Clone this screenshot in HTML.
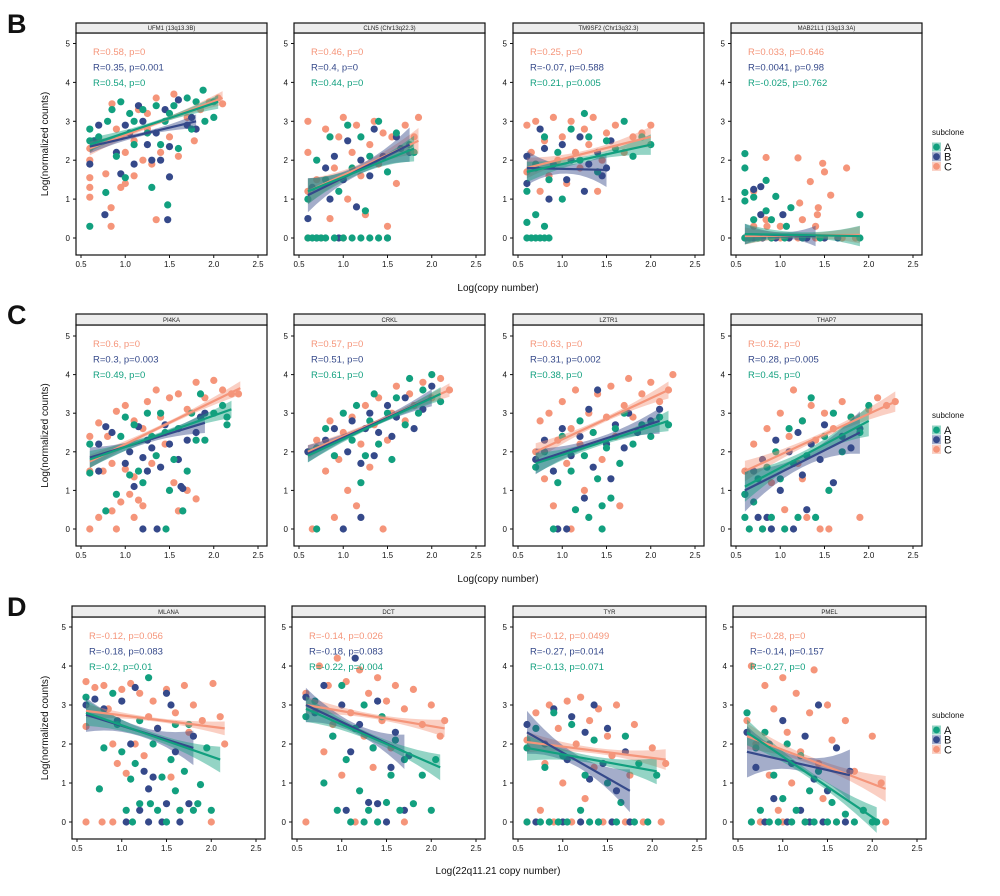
<!DOCTYPE html>
<html><head><meta charset="utf-8">
<style>
html,body{margin:0;padding:0;background:#fff;}
svg{display:block;font-family:"Liberation Sans",Arial,sans-serif;}
</style></head>
<body>
<svg id="fig" width="1000" height="896" viewBox="0 0 1000 896" xmlns="http://www.w3.org/2000/svg"></svg>
<script>
function P(s){return s.split(";").map(function(p){var a=p.split(",");return [+a[0],+a[1]];});}
const seriesNames=["C","B","A"];
const colors={A:"#12a07f",B:"#35498a",C:"#f5957a"};
const xTicks=[0.5,1.0,1.5,2.0,2.5];
const xTickLabels=["0.5","1.0","1.5","2.0","2.5"];
const yTicks=[0,1,2,3,4,5];
const yTickLabels=["0","1","2","3","4","5"];
const panelTitles=["UFM1 (13q13.3B)","CLN5 (Chr13q22.3)","TM9SF2 (Chr13q32.3)","MAB21L1 (13q13.3A)","PI4KA","CRKL","LZTR1","THAP7","MLANA","DCT","TYR","PMEL"];
const statsC=["R=0.58, p=0","R=0.46, p=0","R=0.25, p=0","R=0.033, p=0.646","R=0.6, p=0","R=0.57, p=0","R=0.63, p=0","R=0.52, p=0","R=-0.12, p=0.056","R=-0.14, p=0.026","R=-0.12, p=0.0499","R=-0.28, p=0"];
const statsB=["R=0.35, p=0.001","R=0.4, p=0","R=-0.07, p=0.588","R=0.0041, p=0.98","R=0.3, p=0.003","R=0.51, p=0","R=0.31, p=0.002","R=0.28, p=0.005","R=-0.18, p=0.083","R=-0.18, p=0.083","R=-0.27, p=0.014","R=-0.14, p=0.157"];
const statsA=["R=0.54, p=0","R=0.44, p=0","R=0.21, p=0.005","R=-0.025, p=0.762","R=0.49, p=0","R=0.61, p=0","R=0.38, p=0","R=0.45, p=0","R=-0.2, p=0.01","R=-0.22, p=0.004","R=-0.13, p=0.071","R=-0.27, p=0"];
// fit lines: [x0,y0,x1,y1,bandHalfWidth]
const fitC=[[0.6,2.3,2.1,3.6,0.08],[0.6,1.2,1.85,2.5,0.15],[0.6,1.8,2.0,2.6,0.12],[0.6,0.05,1.9,0.08,0.1],[0.6,1.75,2.3,3.65,0.08],[0.6,2.0,2.2,3.6,0.08],[0.7,2.0,2.2,3.6,0.1],[0.6,1.5,2.3,3.3,0.12],[0.6,2.85,2.15,2.4,0.08],[0.6,3.0,2.15,2.4,0.1],[0.6,2.05,2.15,1.6,0.12],[0.6,2.2,2.15,0.85,0.15]];
const fitB=[[0.6,2.35,1.8,3.0,0.08],[0.6,1.1,1.75,2.4,0.2],[0.6,1.8,1.5,1.75,0.2],[0.6,0.1,1.4,0.05,0.12],[0.6,1.85,1.9,2.75,0.12],[0.6,1.95,2.0,3.4,0.1],[0.7,1.75,2.1,2.8,0.15],[0.6,1.0,1.9,2.5,0.25],[0.6,2.75,1.8,1.9,0.2],[0.6,3.0,1.7,1.8,0.2],[0.6,2.3,1.75,0.8,0.25],[0.6,1.8,1.75,1.2,0.3]];
const fitA=[[0.6,2.4,2.05,3.5,0.08],[0.6,1.2,1.8,2.3,0.15],[0.6,1.7,2.0,2.4,0.12],[0.6,0.1,1.9,0.05,0.12],[0.6,1.8,2.2,3.1,0.1],[0.6,1.9,2.1,3.5,0.08],[0.7,1.7,2.2,2.8,0.12],[0.6,1.1,2.0,2.8,0.18],[0.6,2.8,2.1,1.6,0.15],[0.6,2.9,2.1,1.4,0.15],[0.6,1.9,2.05,1.3,0.15],[0.6,2.3,2.05,0.05,0.15]];
const ptsC=[
P("0.6,2.3;0.6,2.0;0.6,1.55;0.6,1.3;0.6,1.05;0.7,2.5;0.78,1.65;0.84,0.78;0.84,0.3;0.85,3.45;0.9,2.8;0.95,1.3;1.0,2.2;1.0,1.4;1.1,2.5;1.1,1.6;1.15,3.3;1.2,2.0;1.25,2.8;1.3,1.9;1.35,3.6;1.35,0.47;1.4,2.2;1.5,2.6;1.55,3.7;1.6,2.1;1.7,3.1;1.78,2.5;1.85,3.3;1.95,3.5;2.1,3.45;2.05,3.6;1.25,3.2;0.95,2.6"),
P("0.6,0;0.6,1.2;0.6,2.2;0.6,3.0;0.7,1.5;0.75,0;0.8,2.8;0.85,0.5;0.9,1.8;0.95,2.6;1.0,0;1.05,1.0;1.1,2.2;1.15,2.9;1.2,1.6;1.25,0.6;1.3,2.4;1.35,3.0;1.4,1.9;1.45,2.7;1.5,0.3;1.55,2.6;1.6,1.4;1.7,2.9;1.8,2.6;1.85,3.1;1.0,3.1"),
P("0.6,1.7;0.6,2.9;0.65,2.2;0.7,3.0;0.75,1.2;0.8,2.5;0.85,1.6;0.9,3.1;0.95,2.0;1.0,2.6;1.05,1.4;1.1,3.0;1.15,2.2;1.2,1.8;1.25,2.8;1.3,2.4;1.35,3.1;1.45,2.0;1.5,2.7;1.6,2.9;1.7,2.2;1.8,2.6;1.9,2.7;2.0,2.9;1.4,1.2"),
P("0.6,0;0.7,0;0.8,0;0.9,0;1.0,0;1.1,0;1.2,0;1.3,0;1.4,0;1.5,0;1.7,0;1.85,0;0.7,0.3;0.84,0.47;0.84,2.07;0.7,1.2;1.0,0.3;1.2,2.06;1.22,0.9;1.25,0.47;1.34,1.45;1.42,0.6;1.43,0.78;1.48,1.92;1.5,1.7;1.57,1.1;1.75,1.8;1.4,0.3;0.85,0.3"),
P("0.6,0;0.6,1.5;0.6,2.4;0.7,0.3;0.7,2.75;0.75,1.5;0.8,2.4;0.85,0.47;0.85,1.7;0.9,0;0.9,3.05;0.95,0.7;1.0,1.55;1.0,3.2;1.05,0.9;1.1,0.3;1.1,1.35;1.1,2.8;1.15,0.75;1.2,0.6;1.2,2.6;1.25,3.3;1.3,1.7;1.35,3.6;1.4,2.9;1.5,3.4;1.55,1.2;1.6,0.47;1.6,3.5;1.7,1.0;1.7,3.1;1.8,0.78;1.8,3.8;1.9,3.4;2.0,3.85;2.1,3.6;2.2,3.5;2.28,3.5;1.45,2.2"),
P("0.6,2.0;0.65,0;0.7,2.3;0.8,1.5;0.85,2.8;0.9,0.3;0.95,1.8;1.0,2.5;1.05,1.0;1.1,2.9;1.15,0.6;1.2,2.2;1.25,3.2;1.3,1.6;1.35,2.7;1.4,3.4;1.5,2.3;1.55,3.0;1.6,3.7;1.7,2.8;1.75,3.5;1.8,3.2;1.9,3.8;2.0,3.4;2.1,3.9;2.2,3.6;1.45,0"),
P("0.7,2.0;0.75,2.8;0.8,1.3;0.85,3.0;0.9,0.6;0.95,2.3;1.0,3.3;1.05,1.7;1.1,2.6;1.15,3.6;1.2,2.2;1.25,1.0;1.3,3.0;1.35,2.5;1.4,3.5;1.45,1.8;1.5,2.9;1.55,3.7;1.6,2.4;1.7,3.2;1.75,3.9;1.8,2.9;1.9,3.5;2.0,3.8;2.1,3.3;2.2,3.6;2.25,4.0;1.65,0.6;1.1,0"),
P("0.6,1.5;0.7,2.2;0.8,0;0.85,2.6;0.9,1.2;1.0,3.0;1.05,0.5;1.1,2.4;1.15,3.6;1.2,1.7;1.25,2.8;1.3,0.3;1.35,3.2;1.4,2.3;1.45,0;1.5,3.0;1.55,0;1.6,2.6;1.7,3.3;1.8,2.9;1.9,0.3;2.0,3.1;2.1,3.4;2.2,3.2;2.3,3.3;1.25,1.3"),
P("0.6,0;0.6,3.6;0.6,2.45;0.7,3.45;0.78,0;0.8,3.5;0.85,2.9;0.9,0;0.9,2.0;0.95,1.5;1.0,3.4;1.05,1.25;1.1,3.55;1.15,2.0;1.2,3.3;1.25,1.7;1.3,2.7;1.35,3.1;1.4,2.4;1.5,3.4;1.55,1.15;1.6,2.8;1.7,3.5;1.75,2.3;1.8,3.0;1.9,2.6;2.0,0;2.02,3.55;2.1,2.7;2.15,2.0;1.65,0.3"),
P("0.6,0;0.6,3.3;0.7,2.9;0.75,4.0;0.8,1.8;0.85,3.5;0.9,2.5;0.95,4.2;1.0,1.2;1.05,3.6;1.1,2.8;1.15,0;1.2,3.9;1.25,2.2;1.3,3.3;1.35,1.4;1.4,3.7;1.45,2.6;1.5,3.1;1.55,1.9;1.6,3.5;1.7,2.9;1.8,3.4;1.9,2.5;2.0,3.0;2.1,2.2;2.15,2.6;1.7,0"),
P("0.6,0;0.6,2.1;0.7,2.8;0.75,0.3;0.8,1.5;0.85,3.0;0.9,0;0.95,2.4;1.0,1.0;1.05,3.1;1.1,0;1.15,2.0;1.2,3.2;1.25,0.6;1.3,2.6;1.35,1.4;1.4,2.9;1.45,0;1.5,2.2;1.55,1.7;1.6,3.0;1.7,0;1.75,1.2;1.8,2.5;1.9,0;2.0,1.9;2.1,0;2.15,1.5"),
P("0.6,2.6;0.65,4.0;0.7,2.0;0.75,0;0.8,3.5;0.85,1.2;0.9,2.9;0.95,0.3;1.0,3.7;1.05,2.3;1.1,1.0;1.15,3.3;1.2,1.8;1.25,0;1.3,2.8;1.35,3.9;1.4,1.5;1.45,0.6;1.5,3.0;1.55,2.1;1.6,0;1.7,2.6;1.8,1.3;1.9,0.3;2.0,2.2;2.1,1.0;2.15,0;1.0,0")];
const ptsB=[
P("0.6,1.9;0.65,2.5;0.7,2.9;0.77,0.6;0.9,2.2;0.95,1.65;1.05,2.7;1.1,1.9;1.15,3.4;1.25,2.4;1.3,2.0;1.35,2.7;1.4,2.0;1.45,3.3;1.48,0.47;1.5,1.57;1.5,2.35;1.6,3.55;1.7,2.9;1.75,3.1;1.8,2.8;1.2,3.0;1.0,2.9"),
P("0.6,0.5;0.65,1.3;0.7,0;0.8,1.8;0.85,1.0;0.9,2.1;1.0,1.5;1.05,2.5;1.15,0.8;1.2,2.0;1.3,1.6;1.35,2.8;1.45,2.1;1.5,0;1.6,2.6;1.65,2.3;1.75,2.2;0.95,0"),
P("0.6,2.1;0.6,1.4;0.7,1.8;0.8,2.3;0.85,1.0;0.9,1.9;1.0,2.4;1.05,1.5;1.1,2.0;1.2,2.6;1.25,1.2;1.3,1.9;1.4,2.2;1.45,1.6;1.5,1.8;1.55,2.5;0.75,2.8"),
P("0.6,0;0.7,0;0.8,0;0.95,0;1.1,0;1.3,0;1.5,0;1.65,0;0.7,1.25;0.78,1.32;0.78,0.6;1.03,0.6"),
P("0.7,1.5;0.7,2.2;0.78,2.65;0.85,2.5;1.0,1.7;1.05,2.0;1.1,1.1;1.15,2.65;1.2,1.85;1.2,0;1.25,2.3;1.3,2.1;1.36,0;1.4,1.6;1.45,2.7;1.5,2.2;1.6,1.8;1.63,1.1;1.65,1.05;1.7,2.3;1.8,2.5;1.85,2.9;1.9,3.0;1.25,1.5"),
P("0.6,2.0;0.8,2.3;0.9,2.6;1.0,0;1.05,2.0;1.1,2.8;1.2,1.7;1.25,2.6;1.3,3.0;1.35,1.9;1.4,2.5;1.5,3.2;1.55,2.4;1.6,2.9;1.7,3.4;1.8,2.6;1.9,3.1;2.0,3.7;1.2,0.3"),
P("0.7,1.8;0.8,2.3;0.9,1.5;1.0,2.6;1.05,0;1.1,1.9;1.2,2.4;1.25,0.8;1.3,3.1;1.35,1.6;1.4,3.6;1.5,2.2;1.55,1.3;1.6,2.7;1.7,2.1;1.75,3.0;1.85,2.5;2.0,2.8;2.1,3.1;0.95,0"),
P("0.6,0.9;0.7,1.5;0.75,0.3;0.8,1.8;0.9,0;0.95,2.3;1.0,1.0;1.1,2.0;1.15,0;1.2,2.5;1.25,1.4;1.3,0.5;1.35,2.2;1.45,1.8;1.5,2.7;1.6,1.2;1.7,2.4;1.8,2.1;1.9,2.6;0.85,0.3"),
P("0.6,3.0;0.7,3.15;0.8,2.9;0.95,2.6;1.0,3.1;1.05,0;1.1,2.0;1.15,3.45;1.2,0.3;1.25,1.3;1.3,0.85;1.3,0;1.35,1.15;1.4,2.4;1.45,0;1.5,0.47;1.55,3.0;1.6,1.8;1.65,0;1.75,0.47;1.8,2.2;1.5,3.3"),
P("0.6,3.2;0.7,2.8;0.8,3.5;0.9,2.2;1.0,3.0;1.05,0.3;1.1,1.8;1.15,4.2;1.2,2.5;1.3,0.5;1.35,1.9;1.4,3.1;1.5,0;1.55,1.4;1.6,2.3;1.7,0.3;1.75,1.7;1.4,0.47"),
P("0.6,2.5;0.7,0;0.8,2.0;0.9,2.9;1.0,0;1.05,1.6;1.1,2.7;1.2,0;1.25,2.3;1.3,1.1;1.35,3.0;1.4,0;1.45,1.5;1.5,2.4;1.55,0;1.6,0.8;1.7,1.8;1.75,0"),
P("0.6,2.3;0.7,1.4;0.8,0;0.85,2.0;0.9,0.6;1.0,2.6;1.05,0;1.1,1.5;1.2,0.3;1.25,2.2;1.3,0;1.35,1.1;1.4,3.0;1.45,0;1.5,0.8;1.6,1.9;1.7,0;1.75,1.3")];
const ptsA=[
P("0.6,0.3;0.6,2.8;0.6,2.5;0.7,2.6;0.78,1.17;0.8,3.0;0.85,3.3;0.9,2.1;0.95,3.5;1.0,1.55;1.05,3.2;1.1,2.4;1.2,3.3;1.25,2.7;1.3,1.3;1.35,3.4;1.4,2.4;1.45,3.0;1.48,0.85;1.55,3.4;1.6,2.3;1.7,3.6;1.75,2.8;1.8,3.5;1.88,3.8;1.9,3.0;2.0,3.1;2.0,3.5;1.1,3.0;1.5,3.2"),
P("0.6,0;0.65,0;0.7,0;0.75,0;0.8,0;0.9,0;1.0,0;1.1,0;1.2,0;1.3,0;1.4,0;1.5,0;0.6,1.0;0.7,2.0;0.8,1.5;0.85,2.6;0.95,1.2;1.05,2.9;1.1,1.8;1.2,2.6;1.3,2.1;1.4,3.0;1.5,1.7;1.6,2.7;1.75,2.4;1.8,2.2;1.25,0.7"),
P("0.6,0;0.65,0;0.7,0;0.75,0;0.8,0;0.85,0;0.6,0.4;0.7,0.6;0.8,0.3;0.6,1.2;0.7,1.9;0.8,2.6;0.85,1.5;0.95,2.2;1.0,1.0;1.1,2.8;1.2,2.0;1.3,2.6;1.4,1.7;1.5,2.5;1.6,2.3;1.7,3.0;1.8,2.1;1.9,2.6;2.0,2.4;1.25,3.2"),
P("0.6,0;0.65,0;0.75,0;0.9,0;1.05,0;1.25,0;1.45,0;1.9,0;0.6,2.17;0.6,1.8;0.6,1.17;0.6,0.95;0.7,1.05;0.7,0.47;0.84,1.48;0.84,0.7;0.9,0.47;0.95,1.07;1.07,0.3;1.12,0.78;1.9,0.6"),
P("0.6,1.45;0.6,2.2;0.78,0.47;0.9,0.9;0.95,2.4;1.0,2.9;1.05,1.4;1.1,2.7;1.15,1.5;1.2,1.2;1.25,3.0;1.3,2.4;1.35,1.9;1.4,3.0;1.45,2.5;1.46,0;1.5,1.0;1.55,1.8;1.6,2.6;1.65,0.47;1.7,1.5;1.75,3.0;1.8,2.3;1.9,2.3;2.0,3.0;2.1,3.2;2.15,2.7;2.15,2.9;1.85,3.5"),
P("0.7,0;0.7,2.1;0.8,2.6;0.9,1.9;1.0,3.0;1.1,2.3;1.15,3.2;1.2,1.2;1.3,2.8;1.35,3.5;1.4,2.2;1.5,3.0;1.55,1.8;1.6,3.4;1.7,2.7;1.75,3.9;1.85,3.0;1.9,3.6;2.0,4.0;2.1,3.3;1.25,1.9"),
P("0.7,1.6;0.8,2.0;0.9,0;0.95,1.2;1.0,2.4;1.1,1.5;1.15,0.5;1.2,2.8;1.25,1.9;1.3,0.3;1.35,2.5;1.4,1.3;1.45,0;1.5,2.1;1.55,0.8;1.6,2.6;1.65,1.7;1.7,3.0;1.8,2.2;1.9,2.7;2.0,2.4;2.1,2.9;2.2,2.7;1.45,0.6"),
P("0.6,0.9;0.6,0.3;0.65,0;0.7,0.7;0.75,1.3;0.8,0;0.85,1.6;0.9,0.3;0.95,2.0;1.0,1.3;1.05,0;1.1,2.6;1.15,1.7;1.2,0.3;1.25,2.8;1.3,1.9;1.35,3.4;1.4,0.3;1.5,2.4;1.6,3.0;1.7,2.0;1.8,2.9;1.9,2.5;2.0,3.2;1.55,1.0"),
P("0.6,3.2;0.75,0.85;0.8,1.9;0.9,3.3;0.95,2.5;1.0,1.8;1.05,0.3;1.1,1.1;1.12,0;1.15,1.5;1.2,2.6;1.2,0.47;1.3,3.7;1.32,0.47;1.35,2.0;1.4,0.3;1.45,1.15;1.5,0;1.55,1.6;1.6,0.8;1.65,0.3;1.7,1.3;1.75,2.5;1.8,0.3;1.85,0.47;1.88,0.96;1.95,1.9;2.0,0.3;1.6,2.5"),
P("0.6,2.7;0.7,3.1;0.8,1.0;0.9,2.2;0.95,0.3;1.0,3.5;1.05,1.6;1.1,0;1.15,2.4;1.2,0.8;1.25,3.0;1.3,0.3;1.35,1.9;1.4,0;1.45,2.7;1.5,0.5;1.55,1.2;1.6,2.1;1.65,0.3;1.7,1.6;1.8,0.47;1.9,1.2;2.0,0.3;2.05,1.6;1.25,0"),
P("0.6,0;0.6,1.9;0.7,2.4;0.75,0;0.8,1.4;0.85,0;0.9,2.8;0.95,0;1.0,1.7;1.05,0;1.1,2.5;1.2,0.3;1.25,1.2;1.3,0;1.35,2.1;1.4,0;1.5,1.0;1.6,0;1.7,2.2;1.8,0;1.85,1.5;1.95,0;2.05,1.2;1.65,0.5"),
P("0.6,2.8;0.65,0;0.7,1.9;0.75,0.3;0.8,2.3;0.85,0;0.9,1.2;0.95,0;1.0,0.6;1.05,2.0;1.1,0;1.15,0.3;1.2,1.7;1.25,0;1.3,0.8;1.35,0;1.4,1.3;1.5,0;1.55,0.5;1.6,0;1.7,0.2;1.8,0;1.9,0.3;2.0,0;2.05,0")];

const NS="http://www.w3.org/2000/svg";
const svg=document.getElementById("fig");
function mk(tag,attrs,parent){var e=document.createElementNS(NS,tag);for(var k in attrs)e.setAttribute(k,attrs[k]);(parent||svg).appendChild(e);return e;}
const rows=[
 {letter:"B",stripTop:23,plotTop:33,bottom:255,y5:43.5,y0:238,lefts:[76,294,513,731],w:191,xlab:"Log(copy number)",xlabY:291,leg:135},
 {letter:"C",stripTop:314,plotTop:325,bottom:546,y5:336,y0:529,lefts:[76,294,513,731],w:191,xlab:"Log(copy number)",xlabY:582,leg:418},
 {letter:"D",stripTop:606,plotTop:617,bottom:839,y5:627,y0:822,lefts:[72,292,513,733],w:193,xlab:"Log(22q11.21 copy number)",xlabY:874,leg:718}];
const fits={C:fitC,B:fitB,A:fitA};
const pts={C:ptsC,B:ptsB,A:ptsA};
const stats={C:statsC,B:statsB,A:statsA};

rows.forEach(function(r,ri){
  var t=mk("text",{x:7,y:r.stripTop+10,"font-size":27,"font-weight":"bold",fill:"#111"});
  
  
  t.textContent=r.letter;
  var yt=mk("text",{x:0,y:0,"font-size":10,"text-anchor":"middle",fill:"#111",transform:"translate(48,"+((r.plotTop+r.bottom)/2)+") rotate(-90)"});
  
  
  yt.textContent="Log(normalized counts)";
  var xt=mk("text",{x:498,y:r.xlabY,"font-size":10,"text-anchor":"middle",fill:"#111"});
  
  
  xt.textContent=r.xlab;
  r.lefts.forEach(function(L,ci){
    var pi=ri*4+ci;
    var g=mk("g",{});
    
    
    var k=(r.y0-r.y5)/5;
    function X(v){return L+5+(v-0.5)*((r.w-14)/2);}
    function Y(v){return r.y0-v*k;}
    var clip=mk("clipPath",{id:"cp"+pi},g);
    mk("rect",{x:L,y:r.plotTop,width:r.w,height:r.bottom-r.plotTop},clip);
    var pg=mk("g",{"clip-path":"url(#cp"+pi+")"},g);
    seriesNames.forEach(function(s){
      pts[s][pi].forEach(function(p){
        var c=mk("circle",{cx:X(p[0]).toFixed(1),cy:Y(p[1]).toFixed(1),r:3.6,fill:colors[s]},pg);
        
        
      });
    });
    seriesNames.forEach(function(s){
      var f=fits[s][pi],n=12,up=[],dn=[];
      for(var i=0;i<=n;i++){var u=i/n,x=f[0]+(f[2]-f[0])*u,y=f[1]+(f[3]-f[1])*u,hw=f[4]*(0.6+1.6*(2*u-1)*(2*u-1));
        up.push(X(x).toFixed(1)+","+Y(y+hw).toFixed(1));dn.unshift(X(x).toFixed(1)+","+Y(y-hw).toFixed(1));}
      var b=mk("polygon",{points:up.concat(dn).join(" "),fill:colors[s],"fill-opacity":0.45},pg);
      
      
    });
    seriesNames.forEach(function(s){
      var f=fits[s][pi];
      var l=mk("line",{x1:X(f[0]),y1:Y(f[1]),x2:X(f[2]),y2:Y(f[3]),stroke:colors[s],"stroke-width":2.2},pg);
      
      
    });
    var fr=mk("rect",{x:L,y:r.plotTop,width:r.w,height:r.bottom-r.plotTop,fill:"none",stroke:"#111","stroke-width":1.2},g);
    
    
    var st=mk("rect",{x:L,y:r.stripTop,width:r.w,height:r.plotTop-r.stripTop,fill:"#ededed",stroke:"#111","stroke-width":1.2},g);
    
    
    var stt=mk("text",{x:L+r.w/2,y:r.plotTop-3,"font-size":6,"text-anchor":"middle",fill:"#222"},g);
    
    
    stt.textContent=panelTitles[pi];
    ["C","B","A"].forEach(function(s,li){
      var tx=mk("text",{x:L+17,y:r.plotTop+22+li*15.5,"font-size":9.5,fill:colors[s]},g);
      
      
      tx.textContent=stats[s][pi];
    });
    yTicks.forEach(function(v,i){
      mk("line",{x1:L-3,x2:L,y1:Y(v),y2:Y(v),stroke:"#111","stroke-width":1},g);
      var tl=mk("text",{x:L-6,y:Y(v)+3,"font-size":8,"text-anchor":"end",fill:"#111"},g);
      
      
      tl.textContent=yTickLabels[i];
    });
    xTicks.forEach(function(v,i){
      mk("line",{x1:X(v),x2:X(v),y1:r.bottom,y2:r.bottom+3,stroke:"#111","stroke-width":1},g);
      var tl=mk("text",{x:X(v),y:r.bottom+12,"font-size":8,"text-anchor":"middle",fill:"#111"},g);
      
      
      tl.textContent=xTickLabels[i];
    });
  });
  var lg=mk("g",{});
  
  
  var lt=mk("text",{x:932,y:r.leg,"font-size":8,fill:"#111"},lg);
  lt.textContent="subclone";
  ["A","B","C"].forEach(function(s,i){
    var cy=r.leg+12+i*9.7;
    mk("rect",{x:932,y:cy-4.5,width:9,height:9,fill:colors[s],"fill-opacity":0.45},lg);
    var c=mk("circle",{cx:936.5,cy:cy,r:3.4,fill:colors[s]},lg);
    
    
    var tx=mk("text",{x:944,y:cy+4,"font-size":11,fill:"#111"},lg);
    tx.textContent=s;
  });
});
</script>
</body></html>
